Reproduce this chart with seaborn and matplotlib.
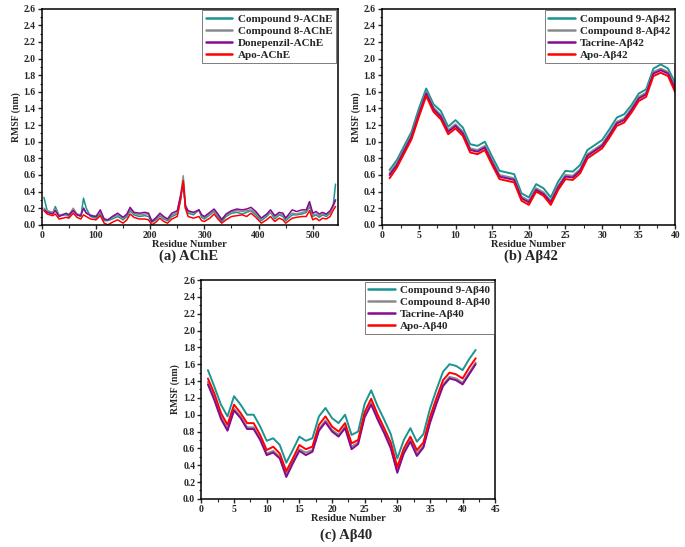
import numpy as np
import pandas as pd
import matplotlib
matplotlib.use("Agg")
import matplotlib.pyplot as plt
import seaborn as sns
from matplotlib.ticker import MultipleLocator, AutoMinorLocator

sns.set_style("white")
plt.rcParams['font.family'] = ['Liberation Serif', 'DejaVu Serif']
plt.rcParams['font.weight'] = 'bold'

colors = ['#1a9490', '#8a8a8a', '#850a8f', '#ff0000']

# (a) AChE
ache_res = [4, 10, 20, 25, 32, 45, 50, 58, 65, 72, 77, 82, 90, 100, 108, 115, 122, 130,
            140, 150, 157, 163, 170, 180, 190, 197, 203, 210, 218, 225, 232, 240, 250,
            256, 261, 265, 270, 280, 290, 295, 300, 310, 318, 325, 332, 340, 350, 360,
            370, 378, 386, 395, 405, 415, 422, 430, 438, 445, 450, 462, 470, 480, 488,
            494, 500, 506, 512, 518, 525, 532, 538, 542]
ache_c9 = [0.33, 0.17, 0.14, 0.22, 0.11, 0.12, 0.10, 0.18, 0.12, 0.10, 0.32, 0.20, 0.10,
           0.08, 0.13, 0.05, 0.05, 0.07, 0.10, 0.06, 0.10, 0.17, 0.12, 0.10, 0.11, 0.10,
           0.03, 0.06, 0.11, 0.07, 0.05, 0.10, 0.13, 0.30, 0.55, 0.20, 0.14, 0.12, 0.18,
           0.09, 0.07, 0.12, 0.16, 0.10, 0.04, 0.10, 0.14, 0.15, 0.13, 0.15, 0.17, 0.12,
           0.05, 0.10, 0.15, 0.07, 0.12, 0.10, 0.05, 0.12, 0.12, 0.13, 0.15, 0.22, 0.10,
           0.12, 0.09, 0.12, 0.10, 0.14, 0.25, 0.49]
ache_c8 = [0.20, 0.17, 0.15, 0.19, 0.12, 0.13, 0.12, 0.20, 0.13, 0.12, 0.20, 0.15, 0.12,
           0.10, 0.15, 0.07, 0.06, 0.09, 0.12, 0.08, 0.12, 0.19, 0.14, 0.12, 0.13, 0.13,
           0.05, 0.08, 0.12, 0.08, 0.07, 0.12, 0.15, 0.35, 0.59, 0.25, 0.16, 0.14, 0.17,
           0.11, 0.09, 0.13, 0.17, 0.12, 0.07, 0.12, 0.16, 0.17, 0.16, 0.17, 0.18, 0.14,
           0.08, 0.12, 0.15, 0.10, 0.13, 0.12, 0.08, 0.14, 0.13, 0.15, 0.16, 0.25, 0.12,
           0.13, 0.11, 0.13, 0.12, 0.15, 0.22, 0.30]
ache_don = [0.18, 0.15, 0.13, 0.17, 0.10, 0.14, 0.12, 0.17, 0.12, 0.11, 0.20, 0.14, 0.11,
            0.10, 0.18, 0.07, 0.06, 0.10, 0.14, 0.09, 0.13, 0.21, 0.15, 0.14, 0.15, 0.14,
            0.04, 0.08, 0.14, 0.10, 0.07, 0.14, 0.17, 0.35, 0.50, 0.22, 0.17, 0.15, 0.18,
            0.12, 0.10, 0.15, 0.19, 0.13, 0.06, 0.13, 0.17, 0.19, 0.18, 0.19, 0.21, 0.16,
            0.08, 0.13, 0.18, 0.11, 0.15, 0.14, 0.08, 0.18, 0.16, 0.18, 0.18, 0.28, 0.14,
            0.16, 0.13, 0.15, 0.13, 0.17, 0.24, 0.30]
ache_apo = [0.17, 0.13, 0.11, 0.13, 0.07, 0.09, 0.08, 0.14, 0.09, 0.07, 0.12, 0.10, 0.07,
            0.06, 0.11, 0.02, 0.00, 0.03, 0.06, 0.02, 0.06, 0.13, 0.09, 0.07, 0.07, 0.06,
            0.00, 0.03, 0.08, 0.04, 0.02, 0.07, 0.10, 0.30, 0.53, 0.20, 0.10, 0.08, 0.10,
            0.05, 0.04, 0.08, 0.13, 0.07, 0.02, 0.06, 0.10, 0.11, 0.12, 0.10, 0.14, 0.09,
            0.02, 0.06, 0.10, 0.04, 0.08, 0.06, 0.02, 0.08, 0.09, 0.10, 0.10, 0.17, 0.06,
            0.08, 0.05, 0.08, 0.07, 0.10, 0.18, 0.22]

# (b) Abeta42
ab42_res = list(range(1, 41))
ab42_c9 = [0.66, 0.78, 0.95, 1.12, 1.40, 1.64, 1.45, 1.37, 1.18, 1.26, 1.17, 0.97, 0.95,
           1.00, 0.82, 0.65, 0.63, 0.61, 0.38, 0.33, 0.49, 0.44, 0.33, 0.52, 0.65, 0.64,
           0.72, 0.90, 0.96, 1.02, 1.15, 1.29, 1.33, 1.44, 1.58, 1.63, 1.88, 1.93, 1.88, 1.70]
ab42_c8 = [0.62, 0.74, 0.91, 1.08, 1.35, 1.60, 1.41, 1.32, 1.14, 1.21, 1.12, 0.92, 0.90,
           0.95, 0.77, 0.60, 0.58, 0.56, 0.34, 0.29, 0.44, 0.39, 0.29, 0.47, 0.60, 0.59,
           0.67, 0.85, 0.91, 0.97, 1.10, 1.24, 1.28, 1.40, 1.54, 1.59, 1.84, 1.88, 1.84, 1.66]
ab42_tac = [0.60, 0.72, 0.89, 1.06, 1.33, 1.58, 1.39, 1.30, 1.12, 1.19, 1.10, 0.90, 0.88,
            0.93, 0.75, 0.58, 0.56, 0.54, 0.32, 0.27, 0.42, 0.37, 0.27, 0.45, 0.58, 0.57,
            0.65, 0.83, 0.89, 0.95, 1.08, 1.22, 1.26, 1.38, 1.52, 1.57, 1.82, 1.86, 1.82, 1.63]
ab42_apo = [0.56, 0.69, 0.86, 1.03, 1.30, 1.55, 1.36, 1.27, 1.09, 1.16, 1.07, 0.87, 0.85,
            0.90, 0.72, 0.55, 0.53, 0.51, 0.29, 0.24, 0.40, 0.35, 0.24, 0.42, 0.55, 0.54,
            0.62, 0.80, 0.86, 0.92, 1.05, 1.19, 1.23, 1.35, 1.49, 1.54, 1.79, 1.83, 1.79, 1.59]

# (c) Abeta40
ab40_res = list(range(1, 43))
ab40_c9 = [1.53, 1.33, 1.12, 0.98, 1.22, 1.12, 1.00, 1.00, 0.86, 0.69, 0.72, 0.64, 0.43,
           0.58, 0.74, 0.69, 0.72, 0.98, 1.08, 0.96, 0.90, 1.00, 0.76, 0.80, 1.13, 1.29,
           1.10, 0.94, 0.77, 0.48, 0.70, 0.84, 0.68, 0.77, 1.07, 1.30, 1.51, 1.60, 1.58,
           1.53, 1.66, 1.77]
ab40_c8 = [1.39, 1.20, 0.98, 0.83, 1.07, 0.98, 0.85, 0.85, 0.72, 0.54, 0.57, 0.50, 0.29,
           0.44, 0.59, 0.55, 0.58, 0.83, 0.93, 0.82, 0.76, 0.86, 0.62, 0.67, 0.99, 1.14,
           0.96, 0.80, 0.62, 0.34, 0.56, 0.70, 0.54, 0.63, 0.92, 1.15, 1.36, 1.45, 1.43,
           1.38, 1.50, 1.62]
ab40_tac = [1.36, 1.17, 0.95, 0.81, 1.05, 0.96, 0.83, 0.83, 0.70, 0.52, 0.55, 0.48, 0.26,
            0.42, 0.57, 0.52, 0.56, 0.81, 0.91, 0.80, 0.74, 0.84, 0.59, 0.65, 0.97, 1.12,
            0.94, 0.78, 0.60, 0.31, 0.54, 0.68, 0.51, 0.61, 0.90, 1.13, 1.34, 1.43, 1.41,
            1.36, 1.48, 1.60]
ab40_apo = [1.43, 1.25, 1.02, 0.88, 1.12, 1.02, 0.90, 0.90, 0.76, 0.58, 0.62, 0.54, 0.33,
            0.48, 0.64, 0.59, 0.62, 0.88, 0.98, 0.86, 0.80, 0.90, 0.66, 0.70, 1.03, 1.19,
            1.00, 0.84, 0.67, 0.38, 0.60, 0.74, 0.58, 0.67, 0.97, 1.20, 1.41, 1.50, 1.48,
            1.43, 1.56, 1.67]

panels = [
    dict(rect=[0.061, 0.589, 0.432, 0.395], res=ache_res,
         series=[ache_c9, ache_c8, ache_don, ache_apo],
         names=['Compound 9-AChE', 'Compound 8-AChE', 'Donepenzil-AChE', 'Apo-AChE'],
         xlim=(0, 546), xmajor=100, caption='(a) AChE', cap_xy=(0.275, 0.531), lw=1.1),
    dict(rect=[0.558, 0.589, 0.428, 0.395], res=ab42_res,
         series=[ab42_c9, ab42_c8, ab42_tac, ab42_apo],
         names=['Compound 9-Aβ42', 'Compound 8-Aβ42', 'Tacrine-Aβ42', 'Apo-Aβ42'],
         xlim=(0, 40), xmajor=5, caption='(b) Aβ42', cap_xy=(0.775, 0.531), lw=1.4),
    dict(rect=[0.294, 0.088, 0.429, 0.400], res=ab40_res,
         series=[ab40_c9, ab40_c8, ab40_tac, ab40_apo],
         names=['Compound 9-Aβ40', 'Compound 8-Aβ40', 'Tacrine-Aβ40', 'Apo-Aβ40'],
         xlim=(0, 45), xmajor=5, caption='(c) Aβ40', cap_xy=(0.505, 0.022), lw=1.4),
]

fig = plt.figure(figsize=(6.85, 5.47), dpi=100)

for p in panels:
    ax = fig.add_axes(p['rect'])
    rows = []
    for name, vals in zip(p['names'], p['series']):
        for r, v in zip(p['res'], vals):
            rows.append((r, v, name))
    df = pd.DataFrame(rows, columns=['res', 'rmsf', 'sys'])
    sns.lineplot(data=df, x='res', y='rmsf', hue='sys', hue_order=p['names'],
                 palette=colors, lw=p['lw'], ax=ax, legend=True)
    ax.set_xlim(*p['xlim'])
    ax.set_ylim(0, 2.6)
    ax.yaxis.set_major_locator(MultipleLocator(0.2))
    ax.yaxis.set_minor_locator(AutoMinorLocator(2))
    ax.xaxis.set_major_locator(MultipleLocator(p['xmajor']))
    ax.xaxis.set_minor_locator(AutoMinorLocator(2))
    ax.yaxis.set_major_formatter(matplotlib.ticker.FormatStrFormatter('%.1f'))
    ax.tick_params(which='major', direction='out', length=3, width=1,
                   labelsize=7, pad=1.5, bottom=True, left=True)
    ax.tick_params(which='minor', direction='out', length=1.8, width=0.8,
                   bottom=True, left=True)
    for lab in ax.get_xticklabels() + ax.get_yticklabels():
        lab.set_fontweight('bold')
    for s in ax.spines.values():
        s.set_linewidth(1.1)
        s.set_color('black')
    ax.set_xlabel('Residue Number', fontsize=7.5, fontweight='bold', labelpad=0)
    ax.set_ylabel('RMSF (nm)', fontsize=7, fontweight='bold', labelpad=2)
    leg = ax.legend(loc='upper right', fontsize=8, frameon=True, fancybox=False,
                    handlelength=2.4, borderpad=0.3, labelspacing=0.2,
                    borderaxespad=0.15, handletextpad=0.5)
    leg.get_frame().set_edgecolor('#444444')
    leg.get_frame().set_linewidth(0.6)
    for t in leg.get_texts():
        t.set_fontweight('bold')
    for h in leg.get_lines():
        h.set_linewidth(1.8)
    fig.text(p['cap_xy'][0], p['cap_xy'][1], p['caption'], ha='center', va='center',
             fontsize=10.5, fontweight='bold')

fig.savefig('out.png', dpi=100)
